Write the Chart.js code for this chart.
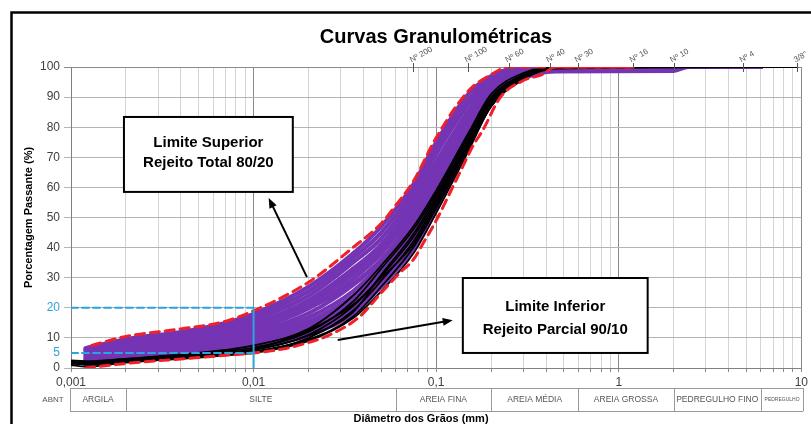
<!DOCTYPE html>
<html><head><meta charset="utf-8">
<script src="https://cdn.jsdelivr.net/npm/chart.js@4.4.0/dist/chart.umd.min.js"></script>
<style>
html,body{margin:0;padding:0;background:#fff;}
#wrap{position:relative;width:811px;height:424px;overflow:hidden;}
canvas{display:block;}
</style></head><body>
<div id="wrap"><canvas id="c" width="811" height="424"></canvas></div>
<script>
// ---------- DATA ----------
const titleText = 'Curvas Granulométricas';
const yTitle = 'Porcentagem Passante (%)';
const xTitle = 'Diâmetro dos Grãos (mm)';
const yTicks = [0, 5, 10, 20, 30, 40, 50, 60, 70, 80, 90, 100];
const yBlueTicks = [5, 20];
const xMajorTicks = [0.001, 0.01, 0.1, 1, 10];
const xTickLabels = ['0,001', '0,01', '0,1', '1', '10'];
const mantissas = [1, 2, 3, 4, 5, 6, 7, 8, 9];

const sieveSizes = [0.075, 0.15, 0.25, 0.42, 0.6, 1.2, 2.0, 4.8, 9.5];
const sieveLabels = ['Nº 200', 'Nº 100', 'Nº 60', 'Nº 40', 'Nº 30', 'Nº 16', 'Nº 10', 'Nº 4', '3/8"'];

const abntBounds = [0.001, 0.002, 0.06, 0.2, 0.6, 2, 6, 10];
const abntNames = ['ARGILA', 'SILTE', 'AREIA FINA', 'AREIA MÉDIA', 'AREIA GROSSA', 'PEDREGULHO FINO', 'PEDREGULHO'];

// red dashed limits
const upperX = [0.0013, 0.002, 0.004, 0.007, 0.01, 0.02, 0.035, 0.05, 0.06, 0.075, 0.1, 0.15, 0.2, 0.25, 0.45, 1.2];
const upperY = [7.5, 10.5, 13, 15.5, 19, 28.5, 40, 48, 54, 62, 76.5, 92, 97.5, 100, 100, 100];
const lowerX = [0.0012, 0.002, 0.004, 0.007, 0.01, 0.015, 0.02, 0.025, 0.038, 0.05, 0.063, 0.075, 0.085, 0.1, 0.123, 0.14, 0.158, 0.18, 0.225, 0.3, 0.38, 0.45, 1.2];
const lowerY = [0, 1.5, 3, 4.2, 5, 6.5, 8.5, 10.5, 17, 25, 31.5, 36, 41.5, 49, 60, 67, 73.5, 79, 90, 95.5, 97.5, 100, 100];

// blue reference lines
const refX = [0.001, 0.01];
const ref20 = [20, 20];
const ref5 = [5, 5];
const refVX = [0.01, 0.01];
const refVY = [0, 20];

// purple samples (Rejeito Total)
const diamP = [0.0012, 0.002, 0.004, 0.007, 0.01, 0.02, 0.035, 0.05, 0.075, 0.1, 0.15, 0.2, 0.3, 0.45, 2, 2.4, 6];
const purple = [
  [6.6, 9.6, 12, 15, 18, 27, 38, 47, 61, 75, 91, 97, 100, 100, 100, 100, 100],
  [6.2, 9, 11.4, 14.2, 17, 25.5, 36.5, 45, 59, 73, 89, 96.5, 99.5, 100, 100, 100, 100],
  [5.7, 8.3, 10.6, 13.3, 16, 24, 35, 43, 57, 71, 87.5, 95.5, 99.2, 100, 100, 100, 100],
  [5.2, 7.6, 9.8, 12.4, 14.8, 22.5, 33, 41, 55, 68.5, 85.5, 94.5, 99, 100, 100, 100, 100],
  [4.7, 7, 9.2, 11.5, 13.8, 21, 31, 39.5, 53, 66.5, 84, 94, 98.5, 100, 100, 100, 100],
  [4.2, 6.4, 8.5, 10.8, 12.8, 19.8, 29.5, 38, 51.5, 64.5, 83, 93, 98, 100, 100, 100, 100],
  [3.8, 5.8, 7.8, 10, 11.8, 18.2, 27.5, 36, 49.5, 62.5, 81.5, 92, 97.8, 99.8, 100, 100, 100],
  [3.3, 5.2, 7.1, 9.1, 10.8, 16.8, 25.5, 34.5, 47.5, 60.5, 80, 91, 97.5, 99.8, 100, 100, 100],
  [2.8, 4.6, 6.4, 8.3, 9.8, 15.5, 24, 32.5, 45.5, 58.5, 78.5, 90, 97, 99.7, 100, 100, 100],
  [2.4, 4.1, 5.8, 7.6, 9, 14.3, 22.5, 31, 44, 57, 77, 89.5, 96.8, 99.6, 100, 100, 100],
  [2, 3.6, 5.2, 6.9, 8.2, 13.2, 21, 29.5, 42.5, 55.5, 76, 89, 96.5, 99.6, 100, 100, 100],
  [1.5, 3.1, 4.7, 6.2, 7.4, 12, 19.5, 28.5, 41, 54, 75, 88, 96.3, 99.6, 100, 100, 100],
  [1.1, 2.6, 4.1, 5.5, 6.6, 10.8, 18, 27, 39.5, 52.5, 73.5, 87.5, 96, 98.5, 98.7, 100, 100],
  [6, 8.5, 10.5, 12.5, 14.5, 20, 28, 36, 50, 65, 85, 95, 99, 100, 100, 100, 100],
  [3, 5, 7.5, 10.5, 13, 21.5, 32, 41, 54, 67, 84.5, 94, 98.6, 100, 100, 100, 100],
  [2.2, 3.9, 5.6, 7.5, 9.3, 15, 23, 31, 42, 56, 79, 92, 98, 100, 100, 100, 100]
];

// black samples (Rejeito Parcial)
const diamB = [0.001, 0.0012, 0.002, 0.004, 0.007, 0.01, 0.02, 0.035, 0.05, 0.075, 0.1, 0.15, 0.2, 0.3, 0.45, 9.5];
const black = [
  [2, 2, 2.5, 3.5, 4.5, 5.5, 9.5, 17, 27, 40, 53, 73, 87, 96, 99.5, 100],
  [1.5, 1.2, 2, 3, 4.2, 5.2, 10, 19, 29, 42, 55, 74, 88, 96.5, 100, 100],
  [2.5, 2.3, 3, 4, 5, 6, 11, 20.5, 30.5, 43.5, 56, 75, 89, 97, 100, 100],
  [1, 0.5, 1.8, 3.2, 4.3, 5, 9, 16.5, 25.5, 38, 51.5, 72, 87, 96, 100, 100],
  [2, 1.8, 2.8, 4.2, 5.6, 6.8, 12, 22, 33, 46, 58, 77, 90, 97.5, 100, 100],
  [1.8, 1.5, 2.4, 3.7, 5, 6, 10.8, 18.5, 31, 44.5, 57, 76, 89.5, 97, 100, 100],
  [2.2, 2, 3, 4.5, 6, 7.5, 13, 24, 34, 47, 59, 78, 91, 98, 100, 100],
  [1.6, 1.3, 2.2, 3.4, 4.8, 6.2, 12.5, 21, 30, 41, 54, 74.5, 88.5, 96.5, 100, 100]
];

// annotations (data coordinates)
const box1X = [0.00195, 0.0164], box1Y = [83.4, 58.5];
const box1Text = ['Limite Superior', 'Rejeito Total 80/20'];
const box2X = [0.14, 1.44], box2Y = [29.9, 5];
const box2Text = ['Limite Inferior', 'Rejeito Parcial 90/10'];
const arrow1 = [[0.0196, 30.2], [0.0121, 56.5]];
const arrow2 = [[0.0289, 9.3], [0.1233, 15.9]];

// ---------- STYLE ----------
const FONT = '"Liberation Sans", Arial, sans-serif';
const PURPLE = '#7434b4';
const RED = '#f0202a';
const BLUE = '#2ba3dc';

const pts = (xs, ys) => xs.map((v, i) => ({x: v, y: ys[i]}));
const datasets = [];
datasets.push({data: pts(refX, ref20), borderColor: BLUE, borderWidth: 2, borderDash: [7, 4], order: 0});
datasets.push({data: pts(refX, ref5), borderColor: BLUE, borderWidth: 2, borderDash: [7, 4], order: 0});
datasets.push({data: pts(refVX, refVY), borderColor: BLUE, borderWidth: 2, order: 0});
datasets.push({data: pts(upperX, upperY), borderColor: RED, borderWidth: 3, borderDash: [9, 6], order: 1});
datasets.push({data: pts(lowerX, lowerY), borderColor: RED, borderWidth: 3, borderDash: [9, 6], order: 1});
black.forEach(s => datasets.push({data: pts(diamB, s), borderColor: '#000', borderWidth: 1.8, order: 2}));
purple.forEach(s => datasets.push({data: pts(diamP, s), borderColor: PURPLE, borderWidth: 4, order: 4}));

function arrow(ctx, x0, y0, x1, y1) {
  const a = Math.atan2(y1 - y0, x1 - x0), L = 10, W = 4;
  ctx.beginPath(); ctx.moveTo(x0, y0); ctx.lineTo(x1 - Math.cos(a) * L * 0.8, y1 - Math.sin(a) * L * 0.8); ctx.stroke();
  ctx.beginPath(); ctx.moveTo(x1, y1);
  ctx.lineTo(x1 - L * Math.cos(a) + W * Math.sin(a), y1 - L * Math.sin(a) - W * Math.cos(a));
  ctx.lineTo(x1 - L * Math.cos(a) - W * Math.sin(a), y1 - L * Math.sin(a) + W * Math.cos(a));
  ctx.closePath(); ctx.fill();
}

const deco = {
  id: 'deco',
  beforeDraw(chart) {
    const ctx = chart.ctx; ctx.save(); ctx.fillStyle = '#fff'; ctx.fillRect(0, 0, chart.width, chart.height); ctx.restore();
  },
  afterDraw(chart) {
    const {ctx, chartArea: ca, scales: {x, y}} = chart;
    ctx.save();
    // frame
    ctx.strokeStyle = '#000'; ctx.lineWidth = 2.5;
    ctx.strokeRect(11.5, 12.5, 1000, 1000);
    // title
    ctx.fillStyle = '#000'; ctx.font = 'bold 20px ' + FONT; ctx.textAlign = 'center'; ctx.textBaseline = 'middle';
    ctx.fillText(titleText, 436, 37);
    // x title
    ctx.font = 'bold 11px ' + FONT;
    ctx.fillText(xTitle, 421, 419);
    // sieves
    const py = y.getPixelForValue(100);
    sieveSizes.forEach((s, i) => {
      const px = x.getPixelForValue(s);
      ctx.strokeStyle = '#555'; ctx.lineWidth = 1;
      ctx.beginPath(); ctx.moveTo(Math.round(px) + 0.5, py - 4); ctx.lineTo(Math.round(px) + 0.5, py + 5); ctx.stroke();
      ctx.save(); ctx.translate(px - 1, py - 3); ctx.rotate(-0.5);
      ctx.font = '8px ' + FONT; ctx.fillStyle = '#555'; ctx.textAlign = 'left'; ctx.textBaseline = 'bottom';
      ctx.fillText(sieveLabels[i], 0, 0); ctx.restore();
    });
    // ABNT table
    const t0 = ca.bottom + 20, t1 = ca.bottom + 43;
    const xl = x.getPixelForValue(abntBounds[0]) - 1, xr = ca.right + 2;
    ctx.strokeStyle = '#9a9a9a'; ctx.lineWidth = 1;
    ctx.beginPath();
    ctx.moveTo(xl, t0 + 0.5); ctx.lineTo(xr, t0 + 0.5);
    ctx.moveTo(xl, t1 + 0.5); ctx.lineTo(xr, t1 + 0.5);
    abntBounds.forEach((b, i) => {
      const bx = i === abntBounds.length - 1 ? xr : (i === 0 ? xl : x.getPixelForValue(b));
      ctx.moveTo(Math.round(bx) + 0.5, t0); ctx.lineTo(Math.round(bx) + 0.5, t1);
    });
    ctx.stroke();
    ctx.fillStyle = '#555'; ctx.textAlign = 'center'; ctx.textBaseline = 'middle';
    ctx.font = '8px ' + FONT;
    ctx.fillText('ABNT', 53, (t0 + t1) / 2);
    abntNames.forEach((n, i) => {
      const a = i === 0 ? xl : x.getPixelForValue(abntBounds[i]);
      const b = i === abntNames.length - 1 ? xr : x.getPixelForValue(abntBounds[i + 1]);
      ctx.font = (i === abntNames.length - 1 ? '5px ' : '8.5px ') + FONT;
      ctx.fillText(n, (a + b) / 2, (t0 + t1) / 2);
    });
    // annotation boxes
    const drawBox = (bx, by, lines, offs) => {
      const x0 = x.getPixelForValue(bx[0]), x1 = x.getPixelForValue(bx[1]);
      const y0 = y.getPixelForValue(by[0]), y1 = y.getPixelForValue(by[1]);
      ctx.fillStyle = '#fff'; ctx.fillRect(x0, y0, x1 - x0, y1 - y0);
      ctx.strokeStyle = '#000'; ctx.lineWidth = 2; ctx.strokeRect(x0, y0, x1 - x0, y1 - y0);
      ctx.fillStyle = '#000'; ctx.font = 'bold 15px ' + FONT; ctx.textAlign = 'center'; ctx.textBaseline = 'middle';
      lines.forEach((l, i) => ctx.fillText(l, (x0 + x1) / 2, y0 + offs[i]));
    };
    drawBox(box1X, box1Y, box1Text, [26, 46]);
    drawBox(box2X, box2Y, box2Text, [29, 52]);
    ctx.strokeStyle = '#000'; ctx.fillStyle = '#000'; ctx.lineWidth = 2;
    [arrow1, arrow2].forEach(a => arrow(ctx, x.getPixelForValue(a[0][0]), y.getPixelForValue(a[0][1]), x.getPixelForValue(a[1][0]), y.getPixelForValue(a[1][1])));
    ctx.restore();
  }
};

new Chart(document.getElementById('c'), {
  type: 'line',
  data: {datasets},
  plugins: [deco],
  options: {
    responsive: false, animation: false, devicePixelRatio: 1,
    layout: {padding: {left: 0, right: 9, top: 67, bottom: 0}},
    elements: {point: {radius: 0}, line: {cubicInterpolationMode: 'monotone', borderCapStyle: 'round'}},
    plugins: {legend: {display: false}, tooltip: {enabled: false}, title: {display: false}},
    scales: {
      x: {
        type: 'logarithmic', min: 0.001, max: 10,
        afterBuildTicks: s => {
          const t = [];
          xMajorTicks.forEach((m, i) => {
            if (i < xMajorTicks.length - 1) mantissas.forEach(k => t.push({value: k === 1 ? m : m * k}));
            else t.push({value: m});
          });
          s.ticks = t;
        },
        afterFit: s => { s.height = 56; },
        ticks: {
          autoSkip: false, maxRotation: 0, minRotation: 0, color: '#404040', padding: 3,
          font: {size: 12, family: FONT},
          callback: v => { const k = xMajorTicks.indexOf(v); return k >= 0 ? xTickLabels[k] : ''; }
        },
        grid: {
          color: c => (c.tick && xMajorTicks.includes(c.tick.value)) ? '#8a8a8a' : '#d4d4d4',
          tickColor: '#8a8a8a', tickLength: 4
        },
        border: {color: '#808080'}
      },
      y: {
        type: 'linear', min: 0, max: 100,
        afterBuildTicks: s => { s.ticks = yTicks.map(v => ({value: v})); },
        afterFit: s => { s.width = 71; },
        ticks: {
          color: c => (c.tick && yBlueTicks.includes(c.tick.value)) ? BLUE : '#404040',
          font: {size: 12, family: FONT}, padding: 4
        },
        grid: {
          color: c => (c.tick && c.tick.value === 5) ? 'rgba(0,0,0,0)' : (c.tick && c.tick.value === 100 ? '#8a8a8a' : '#b4b4b4'),
          tickLength: 7
        },
        border: {color: '#808080'},
        title: {display: true, text: yTitle, color: '#000', font: {size: 11, weight: 'bold', family: FONT}, padding: {top: 22, bottom: 0}}
      }
    }
  }
});
</script>
</body></html>
